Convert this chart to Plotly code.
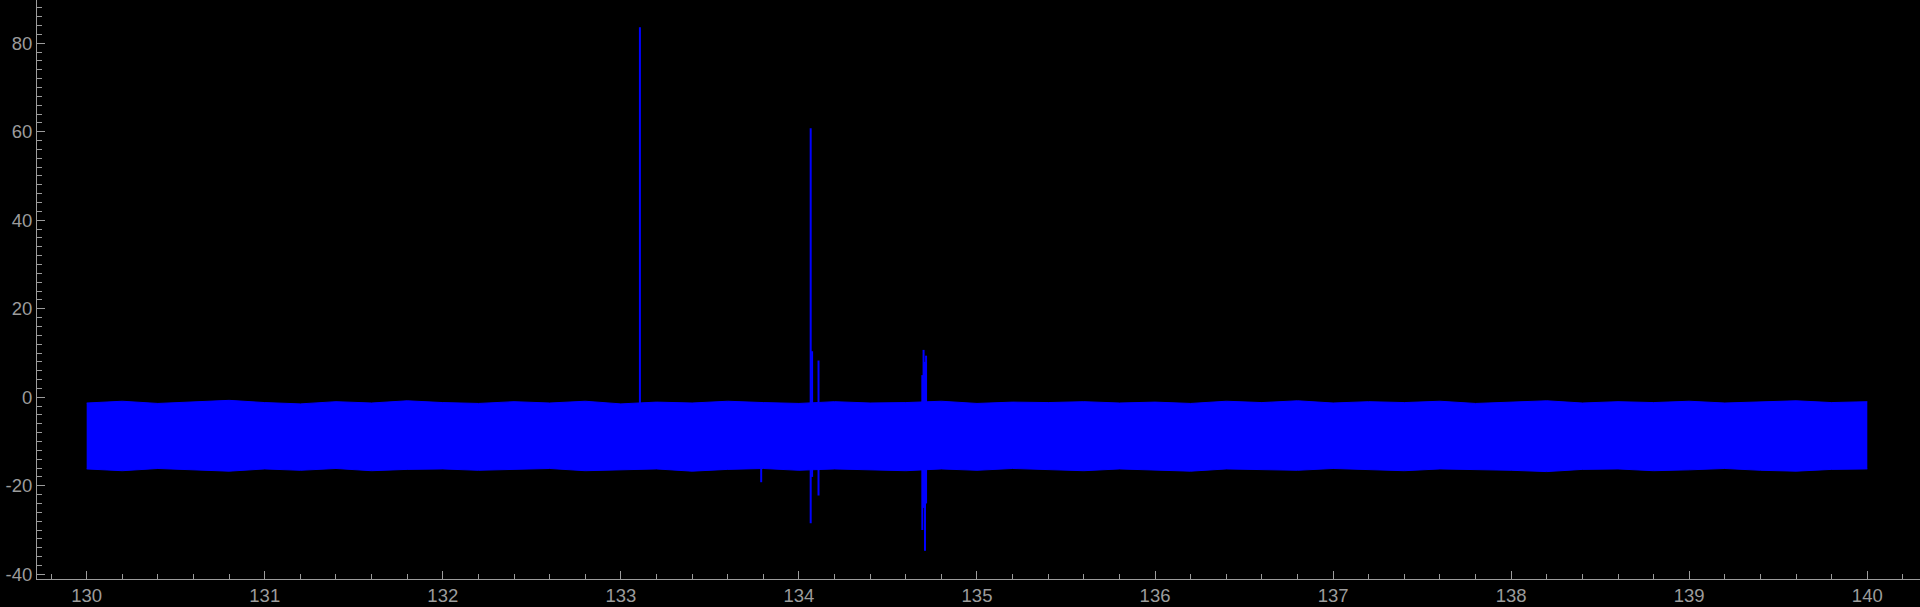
import plotly.graph_objects as go

# ---- data ----
# envelope of the dense noise band (sampled every 0.2 on x)
band_x = [130.0 + 0.2 * i for i in range(51)]
band_top = [-1.3, -0.9, -1.4, -1.1, -0.7, -1.2, -1.5, -1.0, -1.3, -0.8,
            -1.2, -1.4, -1.0, -1.3, -0.9, -1.5, -1.1, -1.3, -0.9, -1.2,
            -1.4, -1.0, -1.3, -1.2, -0.9, -1.4, -1.1, -1.2, -1.0, -1.3,
            -1.1, -1.4, -0.9, -1.2, -0.8, -1.3, -1.0, -1.2, -0.9, -1.4,
            -1.1, -0.8, -1.3, -1.0, -1.2, -0.9, -1.3, -1.1, -0.8, -1.2,
            -1.0]
band_bottom = [-16.2, -16.6, -16.1, -16.4, -16.7, -16.2, -16.5, -16.1, -16.6, -16.3,
               -16.2, -16.5, -16.3, -16.1, -16.6, -16.4, -16.2, -16.7, -16.3, -16.1,
               -16.5, -16.2, -16.4, -16.6, -16.2, -16.5, -16.1, -16.3, -16.6, -16.2,
               -16.4, -16.7, -16.2, -16.3, -16.5, -16.1, -16.4, -16.6, -16.2, -16.3,
               -16.5, -16.8, -16.3, -16.2, -16.6, -16.4, -16.1, -16.5, -16.7, -16.3,
               -16.2]

# isolated spikes: position, highest and lowest value
spike_x = [133.107, 133.788, 134.066, 134.074, 134.110, 134.693, 134.700, 134.708, 134.714]
spike_top = [83.6, -12.0, 60.8, 10.4, 8.3, 5.0, 10.7, 8.0, 9.4]
spike_bottom = [-12.0, -19.2, -28.5, -18.0, -22.2, -30.0, -25.0, -34.7, -24.0]

x_ticks = [130, 131, 132, 133, 134, 135, 136, 137, 138, 139, 140]
y_ticks = [-40, -20, 0, 20, 40, 60, 80]

BLUE = "#0000ff"
GRAY = "#9c9c9c"
FONT = "Liberation Sans"

fig = go.Figure()

# lower envelope
fig.add_trace(go.Scatter(
    x=band_x, y=band_bottom, mode="lines",
    line=dict(color=BLUE, width=1), showlegend=False, hoverinfo="skip"))
# upper envelope filled down to the lower one
fig.add_trace(go.Scatter(
    x=band_x, y=band_top, mode="lines", fill="tonexty", fillcolor=BLUE,
    line=dict(color=BLUE, width=1), showlegend=False, hoverinfo="skip"))

# spikes as vertical segments
sx, sy = [], []
for x, t, b in zip(spike_x, spike_top, spike_bottom):
    sx += [x, x, None]
    sy += [b, t, None]
fig.add_trace(go.Scatter(
    x=sx, y=sy, mode="lines", line=dict(color=BLUE, width=2),
    showlegend=False, hoverinfo="skip"))

axis_common = dict(
    showgrid=False, zeroline=False, showline=True, linecolor=GRAY, linewidth=1,
    ticks="inside", ticklen=8, tickwidth=1, tickcolor=GRAY, automargin=False,
    tickfont=dict(family=FONT, size=18.5, color=GRAY),
)

fig.update_xaxes(
    range=[129.721, 140.296], tickvals=x_ticks, ticktext=[str(v) for v in x_ticks],
    minor=dict(dtick=0.2, tick0=130, ticks="inside", ticklen=5, tickcolor=GRAY, showgrid=False),
    **axis_common)
fig.update_yaxes(
    range=[-41.07, 89.77], tickvals=y_ticks, ticktext=[str(v) for v in y_ticks],
    minor=dict(dtick=2, tick0=0, ticks="inside", ticklen=5, tickcolor=GRAY, showgrid=False),
    **axis_common)

fig.update_layout(
    width=1920, height=607,
    margin=dict(l=37, r=0, t=0, b=28, autoexpand=False),
    paper_bgcolor="black", plot_bgcolor="black",
    font=dict(family=FONT, color=GRAY),
)

fig.write_html(
    "out.html",
    config={"displayModeBar": False},
    post_script="document.body.style.margin='0';document.body.style.background='black';"
                "document.body.style.overflow='hidden';",
)
